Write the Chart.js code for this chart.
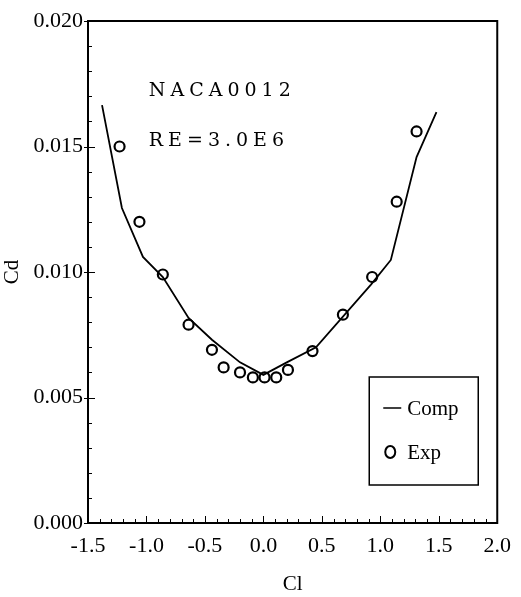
<!DOCTYPE html>
<html>
<head>
<meta charset="utf-8">
<script src="https://cdn.jsdelivr.net/npm/chart.js@4"></script>
<style>
  html, body { margin: 0; padding: 0; background: #fff; }
  #wrap { width: 521px; height: 597px; }
</style>
</head>
<body>
<div id="wrap"><canvas id="grafico" width="521" height="597"></canvas></div>
<script>
// Comp (line) and Exp (circles)
const clComp = [-1.38, -1.21, -1.03, -0.86, -0.64, -0.44, -0.20, 0.00, 0.20, 0.45, 0.92, 1.09, 1.31, 1.48];
const cdComp = [0.01665, 0.01255, 0.0106, 0.0098, 0.00817, 0.0073, 0.0064, 0.0059, 0.0064, 0.0070, 0.0095, 0.01048, 0.01458, 0.01637];

const clExp = [-1.23, -1.06, -0.86, -0.64, -0.44, -0.34, -0.20, -0.09, 0.01, 0.11, 0.21, 0.42, 0.68, 0.93, 1.14, 1.31];
const cdExp = [0.0150, 0.0120, 0.0099, 0.0079, 0.0069, 0.0062, 0.0060, 0.0058, 0.0058, 0.0058, 0.0061, 0.00685, 0.0083, 0.0098, 0.0128, 0.0156];

const xTicks = [-1.5, -1.0, -0.5, 0.0, 0.5, 1.0, 1.5, 2.0];
const yTicks = [0.000, 0.005, 0.010, 0.015, 0.020];
const notas = ['NACA0012', 'RE=3.0E6'];

const fonte = '"Liberation Serif", "DejaVu Serif", serif';

// moldura, marcas internas, texto e legenda
const extras = {
  id: 'extras',
  afterDraw(chart) {
    const c = chart.ctx;
    const a = chart.chartArea;
    const sx = chart.scales.x, sy = chart.scales.y;
    c.save();
    c.strokeStyle = '#000';
    c.lineWidth = 2;
    c.strokeRect(a.left, a.top, a.right - a.left, a.bottom - a.top);

    c.lineWidth = 1;
    c.beginPath();
    for (let i = -15; i <= 20; i++) {
      const px = Math.round(sx.getPixelForValue(i / 10)) + 0.5;
      const len = (i % 5 === 0) ? 7 : 4;
      c.moveTo(px, a.bottom); c.lineTo(px, a.bottom - len);
    }
    for (let i = 0; i <= 20; i++) {
      const py = Math.round(sy.getPixelForValue(i / 1000)) + 0.5;
      const len = (i % 5 === 0) ? 7 : 4;
      c.moveTo(a.left, py); c.lineTo(a.left + len, py);
      if (i % 5 === 0) { c.moveTo(a.left, py); c.lineTo(a.left - 4, py); }
    }
    c.stroke();

    // anotacao
    c.fillStyle = '#000';
    c.font = '19px "DejaVu Serif", serif';
    c.letterSpacing = '5px';
    c.textBaseline = 'middle';
    c.fillText(notas[0], sx.getPixelForValue(-0.98), sy.getPixelForValue(0.0172));
    c.fillText(notas[1], sx.getPixelForValue(-0.98), sy.getPixelForValue(0.0152));
    c.letterSpacing = '0px';

    // legenda
    const bx = a.right - 128, by = a.bottom - 146;
    c.lineWidth = 1.5;
    c.strokeRect(bx, by, 109, 108);
    c.beginPath();
    c.moveTo(bx + 14, by + 31); c.lineTo(bx + 32, by + 31);
    c.stroke();
    c.font = '21px ' + fonte;
    c.fillText('Comp', bx + 38, by + 32);
    c.lineWidth = 2;
    c.beginPath();
    c.ellipse(bx + 21, by + 75, 5, 6, 0, 0, Math.PI * 2);
    c.stroke();
    c.fillText('Exp', bx + 38, by + 76);
    c.restore();
  }
};

const ctx = document.getElementById('grafico').getContext('2d');
const grafico = new Chart(ctx, {
  type: 'scatter',
  data: {
    datasets: [{
      label: 'Comp',
      data: clComp.map((v, i) => ({ x: v, y: cdComp[i] })),
      showLine: true,
      borderColor: '#000',
      borderWidth: 1.8,
      pointRadius: 0,
      tension: 0
    }, {
      label: 'Exp',
      data: clExp.map((v, i) => ({ x: v, y: cdExp[i] })),
      showLine: false,
      pointStyle: 'circle',
      pointRadius: 5,
      borderColor: '#000',
      borderWidth: 2.2,
      backgroundColor: 'rgba(255,255,255,0)'
    }]
  },
  options: {
    responsive: false,
    animation: false,
    layout: { padding: { top: 21, right: 22, left: 0, bottom: 0 } },
    plugins: {
      legend: { display: false },
      tooltip: { enabled: false }
    },
    scales: {
      x: {
        type: 'linear',
        min: -1.5,
        max: 2.0,
        afterFit: s => { s.height = 74; },
        afterBuildTicks: s => { s.ticks = xTicks.map(v => ({ value: v })); },
        grid: { display: false, drawTicks: false },
        border: { display: false },
        ticks: {
          padding: 10,
          color: '#000',
          font: { family: fonte, size: 22 },
          maxRotation: 0,
          callback: v => v.toFixed(1)
        },
        title: {
          display: true,
          text: 'Cl',
          color: '#000',
          font: { family: fonte, size: 21 },
          padding: { top: 14, bottom: 0 }
        }
      },
      y: {
        type: 'linear',
        min: 0,
        max: 0.02,
        afterFit: s => { s.width = 88; },
        afterBuildTicks: s => { s.ticks = yTicks.map(v => ({ value: v })); },
        grid: { display: false, drawTicks: false },
        border: { display: false },
        ticks: {
          padding: 5,
          color: '#000',
          font: { family: fonte, size: 22 },
          callback: v => v.toFixed(3)
        },
        title: {
          display: true,
          text: 'Cd',
          color: '#000',
          font: { family: fonte, size: 21 },
          padding: { top: 0, bottom: 0 }
        }
      }
    }
  },
  plugins: [extras]
});
</script>
</body>
</html>
